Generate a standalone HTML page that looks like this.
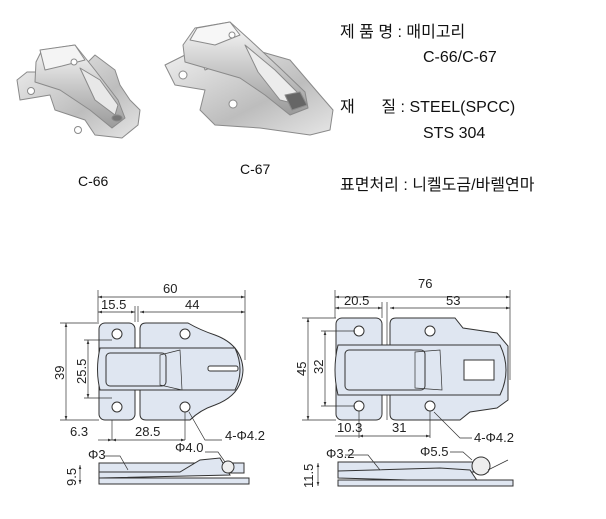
<!DOCTYPE html>
<html><head><meta charset="utf-8"><style>
body{margin:0;background:#fff;width:606px;height:519px;overflow:hidden}
svg{display:block}
.t{font-family:"Liberation Sans","Noto Sans CJK KR",sans-serif;font-size:16px;fill:#111}
.d{font-family:"Liberation Sans",sans-serif;font-size:13px;fill:#222}
.l{stroke:#333;stroke-width:0.7;fill:none}
.p{fill:#dfe6f1;stroke:#333;stroke-width:1}
</style></head><body>
<svg width="606" height="519" viewBox="0 0 606 519">
<defs>
<linearGradient id="m" x1="0" y1="0" x2="1" y2="1"><stop offset="0" stop-color="#f0f0f0"/><stop offset="0.6" stop-color="#bdbdbd"/><stop offset="1" stop-color="#e6e6e6"/></linearGradient>
<linearGradient id="n" x1="0" y1="0" x2="0" y2="1"><stop offset="0" stop-color="#fafafa"/><stop offset="0.5" stop-color="#c8c8c8"/><stop offset="1" stop-color="#9a9a9a"/></linearGradient>
<marker id="a" markerWidth="6" markerHeight="6" refX="6" refY="3" orient="auto"><path d="M0,1 L6,3 L0,5z" fill="#333"/></marker>
<marker id="b" markerWidth="6" markerHeight="6" refX="0" refY="3" orient="auto"><path d="M6,1 L0,3 L6,5z" fill="#333"/></marker>
</defs>
<!-- photo C-66 -->
<g stroke="#8a8a8a" stroke-width="1" stroke-linejoin="round">
<path d="M17,80 L27,72 L45,72 L55,60 L70,58 L82,68 L95,55 L115,70 L120,85 L130,100 L140,110 L138,125 L122,138 L95,135 L85,120 L55,110 L50,95 L20,100z" fill="url(#m)"/>
<path d="M36,62 L42,50 L75,45 L95,70 L118,100 L125,118 L112,128 L90,110 L60,90 L35,82z" fill="url(#n)"/>
<path d="M40,50 L75,45 L85,60 L62,66 L45,70z" fill="#f4f4f4"/>
<path d="M80,68 L100,80 L118,105 L115,115 L95,100z" fill="#e8e8e8"/>
<ellipse cx="117" cy="118" rx="5" ry="3" fill="#777"/>
<circle cx="31" cy="91" r="3.5" fill="#fff"/><circle cx="78" cy="130" r="3.5" fill="#fff"/><circle cx="74" cy="62" r="3" fill="#fff"/>
</g>
<!-- photo C-67 -->
<g stroke="#8a8a8a" stroke-width="1" stroke-linejoin="round">
<path d="M165,65 L185,55 L200,57 L205,70 L255,50 L290,60 L320,95 L333,110 L330,130 L310,135 L260,128 L215,125 L200,110 L205,90 L175,85z" fill="url(#m)"/>
<path d="M183,45 L195,28 L230,22 L250,40 L280,68 L305,92 L308,108 L290,115 L265,95 L240,78 L185,62z" fill="url(#n)"/>
<path d="M190,40 L197,28 L230,22 L240,35 L215,45z" fill="#f7f7f7"/>
<path d="M245,45 L275,70 L300,95 L300,105 L280,100 L258,72z" fill="#ececec"/>
<path d="M285,95 L300,92 L307,105 L292,110z" fill="#666"/>
<circle cx="183" cy="75" r="4" fill="#fff"/><circle cx="233" cy="104" r="4" fill="#fff"/><circle cx="232" cy="35" r="3" fill="#fff"/>
</g>
<text class="t" x="78" y="186" style="font-size:14px">C-66</text>
<text class="t" x="240" y="174" style="font-size:14px">C-67</text>
<!-- spec text -->
<text class="t" x="340" y="37">제 품 명 : 매미고리</text>
<text class="t" x="423" y="62">C-66/C-67</text>
<text class="t" x="340" y="112">재&#160;&#160;&#160;&#160;&#160;&#160;질 : STEEL(SPCC)</text>
<text class="t" x="423" y="138">STS 304</text>
<text class="t" x="340" y="190">표면처리 : 니켈도금/바렐연마</text>

<!-- left drawing -->
<g>
<line class="l" x1="98" y1="297" x2="245" y2="297" marker-start="url(#b)" marker-end="url(#a)"/>
<text class="d" x="163" y="293">60</text>
<line class="l" x1="98" y1="312" x2="135" y2="312" marker-start="url(#b)" marker-end="url(#a)"/>
<line class="l" x1="140" y1="312" x2="245" y2="312" marker-start="url(#b)" marker-end="url(#a)"/>
<text class="d" x="101" y="309">15.5</text><text class="d" x="185" y="309">44</text>
<line class="l" x1="98" y1="290" x2="98" y2="322"/><line class="l" x1="245" y1="290" x2="245" y2="360"/>
<line class="l" x1="135" y1="306" x2="135" y2="322"/><line class="l" x1="138" y1="306" x2="138" y2="322"/>
<rect class="p" x="99" y="323" width="36" height="97" rx="6"/>
<path class="p" d="M140,329 Q140,323 146,323 L188,323 Q200,330 215,335 Q242,345 243,370 Q242,395 215,405 Q200,410 190,420 L146,420 Q140,420 140,414z"/>
<path class="p" d="M100,348 L235,348 Q245,370 235,390 L100,390 Q95,370 100,348z"/>
<rect class="p" x="106" y="353" width="60" height="33" rx="4"/>
<path class="l" d="M160,355 L180,350 L182,390 L160,385z"/>
<rect x="208" y="366" width="30" height="5" rx="2" fill="#fff" stroke="#333"/>
<circle cx="117" cy="334" r="5" fill="#fff" stroke="#333"/><circle cx="185" cy="334" r="5" fill="#fff" stroke="#333"/>
<circle cx="117" cy="407" r="5" fill="#fff" stroke="#333"/><circle cx="185" cy="407" r="5" fill="#fff" stroke="#333"/>
<line class="l" x1="66" y1="323" x2="66" y2="420" marker-start="url(#b)" marker-end="url(#a)"/>
<line class="l" x1="60" y1="323" x2="99" y2="323"/><line class="l" x1="60" y1="420" x2="99" y2="420"/>
<text class="d" transform="translate(64,380) rotate(-90)">39</text>
<line class="l" x1="88" y1="340" x2="88" y2="398" marker-start="url(#b)" marker-end="url(#a)"/>
<line class="l" x1="84" y1="340" x2="112" y2="340"/><line class="l" x1="84" y1="398" x2="112" y2="398"/>
<text class="d" transform="translate(86,384) rotate(-90)">25.5</text>
<line class="l" x1="112" y1="420" x2="112" y2="440"/><line class="l" x1="185" y1="412" x2="185" y2="440"/>
<line class="l" x1="98" y1="440" x2="112" y2="440" marker-end="url(#a)"/>
<line class="l" x1="112" y1="440" x2="185" y2="440" marker-start="url(#b)" marker-end="url(#a)"/>
<text class="d" x="70" y="436">6.3</text><text class="d" x="135" y="436">28.5</text>
<polyline class="l" points="189,412 205,440 222,440"/>
<text class="d" x="225" y="440">4-Φ4.2</text>
<rect class="p" x="99" y="463" width="145" height="10"/>
<path class="p" d="M99,472 L180,472 L200,460 L220,458 L230,475 L99,478z"/>
<circle cx="228" cy="467" r="6" fill="#eee" stroke="#333"/>
<rect class="p" x="99" y="478" width="150" height="6"/>
<polyline class="l" points="105,456 120,456 128,470"/>
<text class="d" x="88" y="459">Φ3</text>
<text class="d" x="175" y="452">Φ4.0</text>
<polyline class="l" points="205,452 218,452 225,462"/>
<line class="l" x1="80" y1="465" x2="80" y2="484" marker-start="url(#b)" marker-end="url(#a)"/>
<text class="d" transform="translate(76,486) rotate(-90)">9.5</text>
</g>

<!-- right drawing -->
<g>
<line class="l" x1="335" y1="297" x2="510" y2="297" marker-start="url(#b)" marker-end="url(#a)"/>
<text class="d" x="418" y="288">76</text>
<line class="l" x1="335" y1="308" x2="382" y2="308" marker-start="url(#b)" marker-end="url(#a)"/>
<line class="l" x1="390" y1="308" x2="510" y2="308" marker-start="url(#b)" marker-end="url(#a)"/>
<text class="d" x="344" y="305">20.5</text><text class="d" x="446" y="305">53</text>
<line class="l" x1="335" y1="290" x2="335" y2="318"/><line class="l" x1="510" y1="290" x2="510" y2="380"/>
<line class="l" x1="382" y1="302" x2="382" y2="318"/><line class="l" x1="387" y1="302" x2="387" y2="420"/>
<rect class="p" x="336" y="318" width="46" height="102" rx="6"/>
<path class="p" d="M390,324 Q390,318 396,318 L455,318 L463,328 L497,333 L508,346 L508,400 L497,408 L470,412 L460,420 L396,420 Q390,420 390,414z"/>
<path class="p" d="M338,345 L500,345 Q512,370 500,395 L338,395 Q332,370 338,345z"/>
<rect class="p" x="345" y="350" width="80" height="40" rx="4"/>
<path class="l" d="M415,352 L440,350 L442,390 L415,388z"/>
<rect x="464" y="360" width="30" height="20" fill="#fff" stroke="#333"/>
<circle cx="359" cy="331" r="5" fill="#fff" stroke="#333"/><circle cx="430" cy="331" r="5" fill="#fff" stroke="#333"/>
<circle cx="359" cy="406" r="5" fill="#fff" stroke="#333"/><circle cx="430" cy="406" r="5" fill="#fff" stroke="#333"/>
<line class="l" x1="308" y1="318" x2="308" y2="420" marker-start="url(#b)" marker-end="url(#a)"/>
<line class="l" x1="302" y1="318" x2="336" y2="318"/><line class="l" x1="302" y1="420" x2="336" y2="420"/>
<text class="d" transform="translate(306,376) rotate(-90)">45</text>
<line class="l" x1="325" y1="331" x2="325" y2="406" marker-start="url(#b)" marker-end="url(#a)"/>
<line class="l" x1="321" y1="331" x2="355" y2="331"/><line class="l" x1="321" y1="406" x2="355" y2="406"/>
<text class="d" transform="translate(323,374) rotate(-90)">32</text>
<line class="l" x1="359" y1="411" x2="359" y2="438"/><line class="l" x1="430" y1="411" x2="430" y2="438"/>
<line class="l" x1="335" y1="436" x2="359" y2="436"/>
<line class="l" x1="359" y1="436" x2="430" y2="436" marker-start="url(#b)" marker-end="url(#a)"/>
<text class="d" x="337" y="432">10.3</text><text class="d" x="392" y="432">31</text>
<polyline class="l" points="434,412 460,438 472,438"/>
<text class="d" x="474" y="442">4-Φ4.2</text>
<rect class="p" x="338" y="462" width="150" height="10"/>
<path class="p" d="M338,471 L440,468 L470,470 L478,482 L338,478z"/>
<circle cx="481" cy="466" r="9" fill="#eee" stroke="#333"/>
<path class="l" d="M488,470 L508,460"/>
<rect class="p" x="338" y="480" width="175" height="6"/>
<polyline class="l" points="345,455 368,455 380,470"/>
<text class="d" x="326" y="458">Φ3.2</text>
<text class="d" x="420" y="456">Φ5.5</text>
<polyline class="l" points="450,452 463,452 472,460"/>
<line class="l" x1="318" y1="463" x2="318" y2="486" marker-start="url(#b)" marker-end="url(#a)"/>
<text class="d" transform="translate(313,488) rotate(-90)">11.5</text>
</g>
</svg>
</body></html>
